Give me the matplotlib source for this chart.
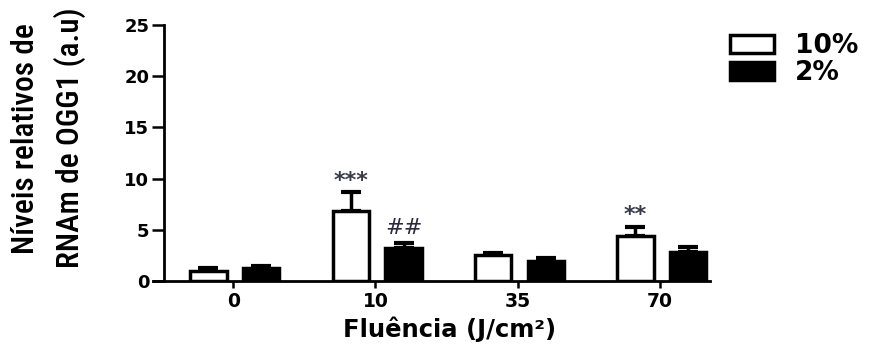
import os

import matplotlib
matplotlib.use("Agg")
import matplotlib.pyplot as plt
import numpy as np
from matplotlib import font_manager
from matplotlib.font_manager import FontProperties

fluence = ["0", "10", "35", "70"]
series_names = ["10%", "2%"]
vals_10 = [0.95, 6.85, 2.5, 4.35]
err_10 = [0.35, 1.8, 0.25, 0.95]
vals_2 = [1.3, 3.2, 1.95, 2.8]
err_2 = [0.2, 0.55, 0.25, 0.5]
marks = [("***", 1, 0), ("##", 1, 1), ("**", 3, 0)]  # text, group, series
y_ticks = [0, 5, 10, 15, 20, 25]
ylabel_lines = ["Níveis relativos de", "RNAm de OGG1 (a.u)"]


def pick_narrow_font():
    # look for any narrow / condensed face, else plain Arial metrics
    prefs = ["LiberationSansNarrow-Regular", "ArialNarrow", "RobotoCondensed-Medium",
             "RobotoCondensed-Regular", "DejaVuSansCondensed.ttf", "NotoSans-Condensed",
             "OpenSans_Condensed-Regular", "OpenSansCondensed"]
    files = [f.fname for f in font_manager.fontManager.ttflist]
    for p in prefs:
        for fn in files:
            if p.lower() in os.path.basename(fn).lower():
                return FontProperties(fname=fn)
    for f in font_manager.fontManager.ttflist:
        base = os.path.basename(f.fname).lower()
        if ("condensed" in base or "narrow" in base) and "bold" not in base \
                and "italic" not in base and "light" not in base and "semi" not in base:
            return FontProperties(fname=f.fname)
    return FontProperties(family="Liberation Sans")


fig = plt.figure(figsize=(8.69, 3.47), dpi=100)
ax = fig.add_axes([153 / 869, 66 / 347, 557 / 869, 256 / 347])

# spine position first: moving it later resets the tick label styling
ax.spines["top"].set_visible(False)
ax.spines["right"].set_visible(False)
ax.spines["left"].set_position(("data", -0.486))
for sp in ["left", "bottom"]:
    ax.spines[sp].set_linewidth(2)

x = np.arange(len(fluence))
w = 0.255
off = [-0.174, 0.197]
lw = 2.5

b1 = ax.bar(x + off[0], vals_10, w, color="white", edgecolor="black", linewidth=lw,
            label=series_names[0], zorder=3)
b2 = ax.bar(x + off[1], vals_2, w, color="black", edgecolor="black", linewidth=lw,
            label=series_names[1], zorder=3)
for xs, v, e in [(x + off[0], vals_10, err_10), (x + off[1], vals_2, err_2)]:
    ax.errorbar(xs, v, yerr=[np.zeros(len(e)), e], fmt="none", ecolor="black",
                elinewidth=2.5, capsize=7.5, capthick=3, zorder=2)

tops = [np.array(vals_10) + err_10, np.array(vals_2) + np.array(err_2)]
for txt, g, s in marks:
    if txt.startswith("*"):
        ax.text(g + off[s], tops[s][g] + 0.55, txt, ha="center", va="baseline",
                fontsize=16, fontweight="bold", color="#3a3a4a")
    else:
        ax.text(g + off[s], tops[s][g] + 0.85, txt, ha="center", va="baseline",
                fontsize=16, color="#2a2a3a")

ax.set_xlim(-0.563, 3.35)
ax.set_ylim(0, 25)
ax.set_xticks(x)
ax.set_xticklabels(fluence, fontsize=13.5, fontweight="bold")
ax.set_yticks(y_ticks)
ax.set_yticklabels([str(t) for t in y_ticks], fontsize=13, fontweight="bold")
ax.tick_params(axis="y", length=9, width=1.8, pad=1.5)
ax.tick_params(axis="x", length=5, width=1.8, pad=3)

fig.text(450 / 869, 1 - 337 / 347, "Fluência (J/cm²)", ha="center", va="baseline",
         fontsize=17.5, fontweight="bold")

# two-line y label, sized so the longer line spans about 259 px
fp = pick_narrow_font()
fp.set_size(22)
yl = [fig.text(xp / 869, 0.602, line, rotation=90, ha="center", va="center",
               fontproperties=fp.copy())
      for xp, line in zip([26, 70], ylabel_lines)]
fig.canvas.draw()
r = fig.canvas.get_renderer()
span = max(t.get_window_extent(r).height for t in yl)
for t in yl:
    t.set_fontsize(22 * 259 / span)

leg = fig.legend(handles=[b1, b2], loc="upper left", bbox_to_anchor=(730 / 869, 1 - 33 / 347),
                 frameon=False, borderpad=0, borderaxespad=0, handlelength=1.65,
                 handleheight=0.7, handletextpad=0.8, labelspacing=0.05,
                 prop={"size": 19, "weight": "bold"})

fig.savefig("out.png", dpi=100)
